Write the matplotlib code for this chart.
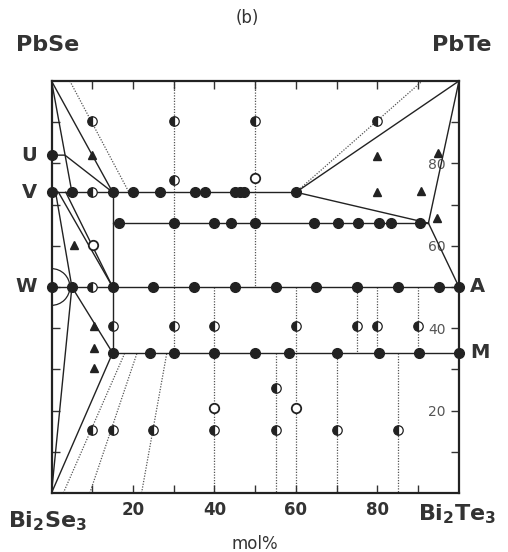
import matplotlib
matplotlib.use("Agg")
import matplotlib.pyplot as plt
from matplotlib.patches import Arc

# filled circles (two-phase / tie-line samples), x = mol% Bi2Te3 side, y = mol% PbX
full_x = [0, 5, 15, 19.9, 26.6, 35.2, 37.7, 45, 46.3, 47.2, 60,
          16.6, 30, 40, 44, 50, 64.3, 70.2, 75.3, 80.4, 83.3, 90.5,
          0, 5, 15, 25, 35, 45, 55, 65, 75, 85, 95, 100,
          15, 24.2, 30, 40, 50, 58.3, 70, 80.4, 90.3, 100,
          0]
full_y = [73] * 11 + [65.5] * 11 + [50] * 12 + [34] * 10 + [82]

# half-filled circles
half_x = [10, 30, 50, 80, 30, 10, 10, 15, 30, 40, 60, 75, 80, 90, 55,
          10, 15, 25, 40, 55, 70, 85]
half_y = [90.3, 90.3, 90.3, 90.4, 76, 73, 50, 40.5, 40.5, 40.5, 40.5, 40.5, 40.5, 40.5, 25.5,
          15.2, 15.2, 15.2, 15.2, 15.2, 15.2, 15.2]

# mostly open circles
open_x = [50, 10.3, 40, 60]
open_y = [76.5, 60.3, 20.6, 20.6]

# triangles (three-phase samples)
tri_x = [10, 5.4, 10.5, 10.5, 10.5, 80, 94.8, 80, 90.6, 94.5]
tri_y = [82, 60.2, 40.5, 35.3, 30.4, 81.9, 82.6, 73, 73.3, 66.7]

# solid phase boundary / tie lines
solid_lines = [
    ([0, 60], [73, 73]),
    ([15, 92.5], [65.5, 65.5]),
    ([0, 100], [50, 50]),
    ([15, 100], [34, 34]),
    ([15, 15], [73, 34]),
    ([0, 15], [100, 73]),
    ([0, 5], [100, 73]),
    ([0, 3.3, 15], [82, 82, 73]),
    ([1.7, 15], [73, 50]),
    ([3.5, 15], [73, 50]),
    ([1, 5], [73, 50]),
    ([5, 15], [50, 34]),
    ([5, 0], [50, 0]),
    ([0, 15], [0, 34]),
    ([100, 60], [100, 73]),
    ([60, 92.5], [73, 65.5]),
    ([92.5, 100], [65.5, 100]),
    ([92.5, 100], [65.5, 50]),
]

# dotted (tentative) lines
dotted_lines = [
    ([4.5, 19], [100, 73]),
    ([60, 91], [73, 100]),
    ([2.9, 18], [0, 34]),
    ([9.4, 21], [0, 34]),
    ([22.1, 28.3], [0, 34]),
    ([30, 30], [100, 34]),
    ([50, 50], [100, 50]),
    ([40, 40], [50, 0]),
    ([55, 55], [34, 0]),
    ([60, 60], [50, 0]),
    ([70, 70], [34, 0]),
    ([75, 75], [50, 34]),
    ([80, 80], [50, 34]),
    ([85, 85], [34, 0]),
    ([90, 90], [50, 34]),
]

fig = plt.figure(figsize=(5.08, 5.52), dpi=100)
ax = fig.add_axes([0.1014, 0.1069, 0.8021, 0.7464])
ax.set_xlim(0, 100)
ax.set_ylim(0, 100)

for xs, ys in dotted_lines:
    ax.plot(xs, ys, color='#555555', lw=0.9, ls=(0, (1, 1.2)), zorder=1)
for xs, ys in solid_lines:
    ax.plot(xs, ys, color='#222222', lw=1.0, zorder=2)

# miscibility arc around W
ax.add_patch(Arc((0, 50), 9, 9 * 407.5 / 412, theta1=-90, theta2=90,
                 color='#222222', lw=0.9, zorder=2))

ax.plot(full_x, full_y, 'o', color='#222222', ms=7, zorder=3, clip_on=False)
ax.plot(half_x, half_y, 'o', ms=6.8, fillstyle='left', markerfacecolor='#222222',
        markerfacecoloralt='white', markeredgecolor='#222222', mew=0.9, zorder=3)
ax.plot(open_x, open_y, 'o', ms=6.8, markerfacecolor='white',
        markeredgecolor='#222222', mew=1.3, zorder=3)
ax.plot(tri_x, tri_y, '^', color='#222222', ms=6, zorder=3)

# ticks
for s in ax.spines.values():
    s.set_linewidth(1.6)
    s.set_color('#222222')
ax.set_xticks([20, 40, 60, 80])
ax.set_xticks([10, 30, 50, 70, 90], minor=True)
ax.set_yticks([20, 40, 60, 80])
ax.set_yticks([10, 30, 50, 70, 90], minor=True)
ax.tick_params(which='both', direction='in', top=True, right=True, left=True,
               bottom=True, length=6, width=1.0, color='#333333')
ax.tick_params(axis='x', labelsize=12, pad=6)
ax.tick_params(axis='y', labelleft=False, labelright=True, pad=-22,
               labelsize=10, labelcolor='#555555')
for lab in ax.get_xticklabels():
    lab.set_fontweight('bold')
    lab.set_color('#333333')

# corner and point labels
kw = dict(fontweight='bold', color='#333333')
fig.text(48 / 508, 1 - 45 / 552, 'PbSe', fontsize=16, ha='center', va='center', **kw)
fig.text(462 / 508, 1 - 45 / 552, 'PbTe', fontsize=16, ha='center', va='center', **kw)
fig.text(48 / 508, 1 - 521 / 552, r'$\mathbf{Bi_2Se_3}$', fontsize=16, ha='center', va='center', color='#333333')
fig.text(457 / 508, 1 - 514 / 552, r'$\mathbf{Bi_2Te_3}$', fontsize=16, ha='center', va='center', color='#333333')
fig.text(255 / 508, 1 - 544 / 552, 'mol%', fontsize=12, ha='center', va='center', color='#333333')
fig.text(247 / 508, 1 - 18 / 552, '(b)', fontsize=12, ha='center', va='center', color='#333333')

for name, yv in [('U', 82), ('V', 73), ('W', 50)]:
    ax.text(-3.5, yv, name, fontsize=14, ha='right', va='center', **kw)
for name, yv in [('A', 50), ('M', 34)]:
    ax.text(102.8, yv, name, fontsize=14, ha='left', va='center', **kw)

fig.savefig('out.png', dpi=100)
